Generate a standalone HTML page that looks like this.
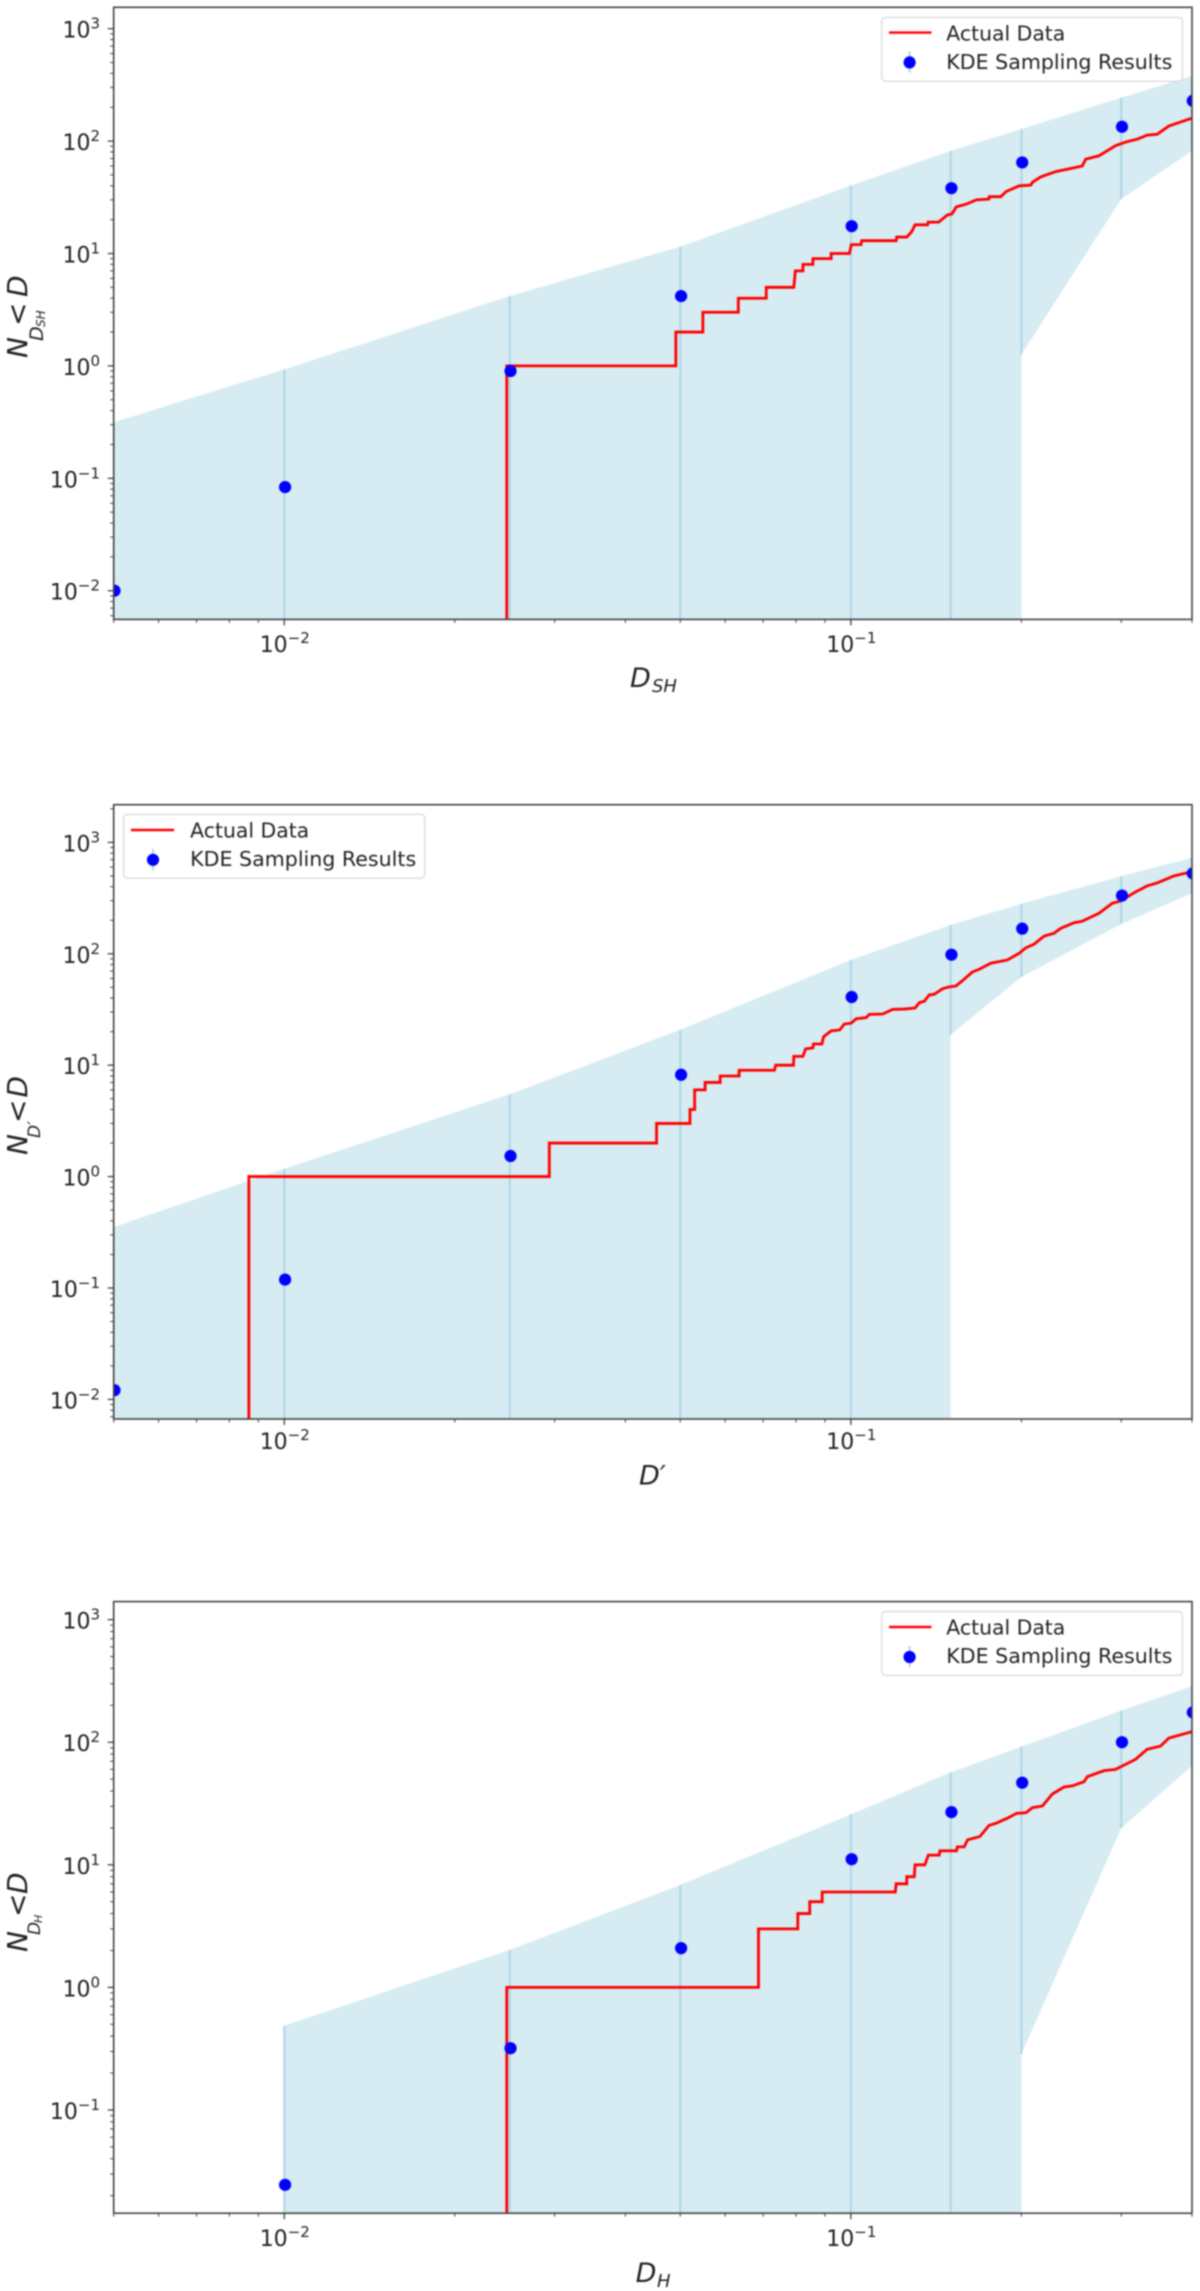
<!DOCTYPE html>
<html lang="en">
<head>
<meta charset="utf-8">
<title>KDE sampling results versus actual data</title>
<style>
html,body{margin:0;padding:0;background:#fff;}
svg{display:block;filter:blur(.7px);}
text{font-family:"DejaVu Sans","Liberation Sans",sans-serif;fill:#222;}
.math{font-style:italic;}
.legend-text{font-size:20px;}
.tick-text{font-size:22px;}
</style>
</head>
<body>
<svg id="figure" xmlns="http://www.w3.org/2000/svg" width="1200" height="2291" viewBox="0 0 1200 2291">
  <defs>
    <clipPath id="clip-1"><rect x="113.7" y="7.3" width="1078.3" height="612.1"/></clipPath>
    <clipPath id="clip-2"><rect x="113.7" y="804.7" width="1078.3" height="614.3"/></clipPath>
    <clipPath id="clip-3"><rect x="113.7" y="1601.6" width="1078.3" height="611.6"/></clipPath>
  </defs>

  <g>
    <g id="marks-1" clip-path="url(#clip-1)"></g>
    <rect x="113.7" y="7.3" width="1078.3" height="612.1" fill="none" stroke="#444" stroke-width="1.6"/>
    <g id="ticks-1"></g>
    <g>
      <text class="math" font-size="28" transform="translate(27,358) rotate(-90)">N</text>
      <text class="math" font-size="19" transform="translate(43,341) rotate(-90)">D</text>
      <text class="math" font-size="12" transform="translate(45,327) rotate(-90)">SH</text>
      <text class="math" font-size="28" transform="translate(27,326) rotate(-90)">&lt;</text>
      <text class="math" font-size="28" transform="translate(27,297) rotate(-90)">D</text>
    </g>
    <g>
      <text class="math" font-size="27" x="630" y="687">D</text>
      <text class="math" font-size="18" x="652" y="692">SH</text>
    </g>
    <g>
      <rect x="881.7" y="17.4" width="300.8" height="63.9" rx="4" fill="#fff" fill-opacity=".82" stroke="#dcdcdc" stroke-width="1.4"/>
      <line x1="889" x2="931.4" y1="32.6" y2="32.6" stroke="#f00" stroke-width="2.4"/>
      <line x1="909.6" x2="909.6" y1="51.4" y2="72.5" stroke="#aed6e5" stroke-width="2"/>
      <circle cx="909.6" cy="62.4" r="6.1" fill="#00f"/>
      <text class="legend-text" x="946.3" y="40.4" textLength="119" lengthAdjust="spacingAndGlyphs">Actual Data</text>
      <text class="legend-text" x="946.3" y="68.9" textLength="226" lengthAdjust="spacingAndGlyphs">KDE Sampling Results</text>
    </g>
  </g>

  <g>
    <g id="marks-2" clip-path="url(#clip-2)"></g>
    <rect x="113.7" y="804.7" width="1078.3" height="614.3" fill="none" stroke="#444" stroke-width="1.6"/>
    <g id="ticks-2"></g>
    <g>
      <text class="math" font-size="28" transform="translate(27,1155) rotate(-90)">N</text>
      <text class="math" font-size="17" transform="translate(40,1138) rotate(-90)">D′</text>
      <text class="math" font-size="28" transform="translate(27,1123) rotate(-90)">&lt;</text>
      <text class="math" font-size="28" transform="translate(27,1097.6) rotate(-90)">D</text>
    </g>
    <text class="math" font-size="27" x="639" y="1484.7">D′</text>
    <g>
      <rect x="123.6" y="814.3" width="301.2" height="63.9" rx="4" fill="#fff" fill-opacity=".82" stroke="#dcdcdc" stroke-width="1.4"/>
      <line x1="130.9" x2="174.1" y1="830" y2="830" stroke="#f00" stroke-width="2.4"/>
      <line x1="153" x2="153" y1="849" y2="870" stroke="#aed6e5" stroke-width="2"/>
      <circle cx="153" cy="859.8" r="6.1" fill="#00f"/>
      <text class="legend-text" x="190.2" y="837.3" textLength="119" lengthAdjust="spacingAndGlyphs">Actual Data</text>
      <text class="legend-text" x="190.2" y="865.8" textLength="226" lengthAdjust="spacingAndGlyphs">KDE Sampling Results</text>
    </g>
  </g>

  <g>
    <g id="marks-3" clip-path="url(#clip-3)"></g>
    <rect x="113.7" y="1601.6" width="1078.3" height="611.6" fill="none" stroke="#444" stroke-width="1.6"/>
    <g id="ticks-3"></g>
    <g>
      <text class="math" font-size="28" transform="translate(27,1952) rotate(-90)">N</text>
      <text class="math" font-size="17" transform="translate(40,1935) rotate(-90)">D</text>
      <text class="math" font-size="11" transform="translate(42,1923) rotate(-90)">H</text>
      <text class="math" font-size="28" transform="translate(27,1917) rotate(-90)">&lt;</text>
      <text class="math" font-size="28" transform="translate(27,1894) rotate(-90)">D</text>
    </g>
    <g>
      <text class="math" font-size="27" x="635.6" y="2282">D</text>
      <text class="math" font-size="18" x="657" y="2287">H</text>
    </g>
    <g>
      <rect x="881.7" y="1611.5" width="300.8" height="63.9" rx="4" fill="#fff" fill-opacity=".82" stroke="#dcdcdc" stroke-width="1.4"/>
      <line x1="889" x2="931.4" y1="1627" y2="1627" stroke="#f00" stroke-width="2.4"/>
      <line x1="909.6" x2="909.6" y1="1646" y2="1667" stroke="#aed6e5" stroke-width="2"/>
      <circle cx="909.6" cy="1657" r="6.1" fill="#00f"/>
      <text class="legend-text" x="946.3" y="1634.7" textLength="119" lengthAdjust="spacingAndGlyphs">Actual Data</text>
      <text class="legend-text" x="946.3" y="1662.9" textLength="226" lengthAdjust="spacingAndGlyphs">KDE Sampling Results</text>
    </g>
  </g>
</svg>

<script>
// Shared sample positions and tick labels
const sampleD = [0.005, 0.01, 0.025, 0.05, 0.1, 0.15, 0.2, 0.3, 0.4];
const xTickValues = [0.01, 0.1];
const xTickExponents = ['\u22122', '\u22121'];
const yTickValues = [0.01, 0.1, 1, 10, 100, 1000];
const yTickExponents = ['\u22122', '\u22121', '0', '1', '2', '3'];
const minorMultiples = [2, 3, 4, 5, 6, 7, 8, 9];
const minorDecades = [0.001, 0.01, 0.1, 1, 10, 100, 1000];

// Panel 1: D_SH
const panel1Upper = [0.315, 0.93, 4.18, 11.5, 40.3, 81.6, 128, 243, 378];
const panel1Lower = [null, null, null, null, null, null, 1.27, 30.6, 82];
const panel1Means = [0.01, 0.0835, 0.90, 4.18, 17.5, 38.1, 64.5, 134, 228];
const panel1LineD = [0.0247,0.0247,0.0491,0.0491,0.0548,0.0548,0.0633,0.0633,0.0709,0.0709,0.0793,0.0798,0.0823,0.0823,0.0857,0.0857,0.0923,0.0923,0.0994,0.1002,0.1042,0.1045,0.1202,0.1205,0.1255,0.1280,0.1298,0.1366,0.1369,0.1428,0.1480,0.1508,0.1535,0.1599,0.1665,0.1752,0.1755,0.1839,0.1878,0.1982,0.2077,0.2091,0.2163,0.2299,0.2443,0.2561,0.2597,0.2741,0.2932,0.3055,0.3203,0.3333,0.3472,0.3640,0.3974,0.4];
const panel1LineN = [0.001,1,1,2,2,3,3,4,4,5,5,7,7,8,8,9,9,10,10,12,12,13,13,14,14,15.6,18,18,19,19,22,22.5,26,27.5,30,30.5,32,32,35.5,40,40.5,43,48,53.5,57,60,69,74,91,98,104,113,115,136,158,160];

// Panel 2: D'
const panel2Upper = [0.352, 1.175, 5.47, 20.8, 88, 181, 281, 496, 726];
const panel2Lower = [null, null, null, null, null, 18.8, 62, 185, 349];
const panel2Means = [0.0121, 0.119, 1.53, 8.2, 40.9, 98, 168, 333, 526];
const panel2LineD = [0.00866,0.00866,0.02936,0.02936,0.0454,0.0454,0.0520,0.0520,0.0530,0.0530,0.0553,0.0553,0.0588,0.0588,0.0635,0.0635,0.0733,0.0737,0.0792,0.0793,0.0823,0.0832,0.0857,0.0859,0.0889,0.0895,0.0923,0.0955,0.0974,0.1001,0.1022,0.1064,0.1078,0.1138,0.1185,0.1243,0.1298,0.1321,0.1348,0.1375,0.1403,0.1452,0.1492,0.1533,0.1574,0.1639,0.1685,0.1766,0.1889,0.1982,0.2036,0.2106,0.2193,0.2284,0.2346,0.2477,0.2561,0.2741,0.2893,0.2993,0.3180,0.3333,0.3472,0.3715,0.3974,0.4];
const panel2LineN = [0.001,1,1,2,2,3,3,4,4,6,6,7,7,8,8,9,9,10,10,12,12,14,14.3,15.5,15.5,18,20.3,20.7,23.4,23.8,26.1,26.7,28.6,28.8,31.7,31.9,32.6,36.4,37.5,42.7,43.3,48.6,50.4,51.4,57.4,68.7,72.6,82.2,88,101,113,122,144,153,169,190,196,231,284,298,359,406,432,499,542,550];

// Panel 3: D_H
const panel3Upper = [null, 0.486, 2.02, 6.84, 25.8, 56.7, 92, 181, 286];
const panel3Lower = [null, null, null, null, null, null, 0.286, 19.9, 64.3];
const panel3Means = [null, 0.0245, 0.319, 2.09, 11.1, 26.9, 46.7, 100, 175];
const panel3LineD = [0.0247,0.0247,0.0687,0.0687,0.0806,0.0806,0.0846,0.0846,0.0890,0.0890,0.1198,0.1202,0.1255,0.1255,0.1294,0.1298,0.1351,0.1370,0.1432,0.1436,0.1536,0.1541,0.1585,0.1607,0.1689,0.1754,0.1803,0.1889,0.1961,0.2036,0.2091,0.2178,0.2268,0.2378,0.2459,0.2579,0.2614,0.2798,0.2932,0.3180,0.3333,0.3520,0.3640,0.3974,0.4];
const panel3LineN = [0.001,1,1,3,3,4,4,5,5,6,6,7,7,8,8,10,10,12,12,13,13,14,14,16,17,21,21.8,24,26.3,26.6,29.2,30.2,37.8,43.1,44,47.6,52.3,58.6,60,72.5,87.5,93,108,121,123];

const SVG_NS = 'http://www.w3.org/2000/svg';

function make(tag, attrs, parent) {
  const node = document.createElementNS(SVG_NS, tag);
  for (const key in attrs) node.setAttribute(key, attrs[key]);
  parent.appendChild(node);
  return node;
}

function drawPanel(panel) {
  const marks = document.getElementById('marks-' + panel.index);
  const ticks = document.getElementById('ticks-' + panel.index);
  const logXMin = Math.log10(0.005);
  const logXMax = Math.log10(0.4);
  const xScale = function (v) {
    return panel.left + (Math.log10(v) - logXMin) / (logXMax - logXMin) * (panel.right - panel.left);
  };
  const yScale = function (v) {
    return panel.bottom - (Math.log10(v) - panel.logYMin) / (panel.logYMax - panel.logYMin) * (panel.bottom - panel.top);
  };
  const yFloor = Math.pow(10, panel.logYMin);
  const yCeil = Math.pow(10, panel.logYMax);

  // Confidence band
  const bandPoints = [];
  sampleD.forEach(function (d, i) {
    if (panel.upper[i] !== null) bandPoints.push(xScale(d).toFixed(2) + ',' + yScale(panel.upper[i]).toFixed(2));
  });
  for (let i = sampleD.length - 1; i >= 0; i--) {
    if (panel.upper[i] === null) continue;
    if (panel.lower[i] !== null) {
      bandPoints.push(xScale(sampleD[i]).toFixed(2) + ',' + yScale(panel.lower[i]).toFixed(2));
    } else {
      bandPoints.push(xScale(sampleD[i === sampleD.length - 1 ? i : (panel.lower[i + 1] !== null ? i + 1 : i)]).toFixed(2) + ',' + panel.bottom);
      bandPoints.push(xScale(sampleD[i]).toFixed(2) + ',' + panel.bottom);
    }
  }
  const band = make('polygon', { points: bandPoints.join(' '), fill: 'rgb(173,216,230)', 'fill-opacity': 0.5 }, marks);
  
  

  // Error bars
  sampleD.forEach(function (d, i) {
    if (panel.upper[i] === null) return;
    const low = panel.lower[i] === null ? yFloor : panel.lower[i];
    const bar = make('line', {
      x1: xScale(d), x2: xScale(d), y1: yScale(low), y2: yScale(panel.upper[i]),
      stroke: '#aed6e5', 'stroke-width': 2
    }, marks);
    
    
  });

  // Actual data line
  const linePoints = panel.lineD.map(function (d, i) {
    return xScale(d).toFixed(2) + ',' + yScale(panel.lineN[i]).toFixed(2);
  });
  const line = make('polyline', {
    points: linePoints.join(' '), fill: 'none', stroke: '#f00', 'stroke-width': 2.8, 'stroke-linejoin': 'miter'
  }, marks);
  
  

  // KDE means
  sampleD.forEach(function (d, i) {
    if (panel.means[i] === null) return;
    const dot = make('circle', { cx: xScale(d) + 0.8, cy: yScale(panel.means[i]), r: 6.1, fill: '#00f' }, marks);
    
    
  });

  // X ticks
  xTickValues.forEach(function (v, i) {
    const tick = make('line', { x1: xScale(v), x2: xScale(v), y1: panel.bottom, y2: panel.bottom + 6, stroke: '#333', 'stroke-width': 1.2 }, ticks);
    
    
    const label = make('text', { x: xScale(v) + 0.5, y: panel.bottom + panel.xLabelDrop, 'text-anchor': 'middle', class: 'tick-text' }, ticks);
    
    
    make('tspan', {}, label).textContent = '10';
    const sup = make('tspan', { dy: -9, 'font-size': 15 }, label);
    sup.textContent = xTickExponents[i];
  });
  minorDecades.forEach(function (decade) {
    minorMultiples.forEach(function (m) {
      const v = decade * m;
      if (v < 0.00499 || v > 0.401) return;
      const tick = make('line', { x1: xScale(v), x2: xScale(v), y1: panel.bottom, y2: panel.bottom + 3.5, stroke: '#444', 'stroke-width': 1 }, ticks);
      
      
    });
  });

  // Y ticks
  yTickValues.forEach(function (v, i) {
    if (v < yFloor || v > yCeil) return;
    const tick = make('line', { x1: panel.left - 6, x2: panel.left, y1: yScale(v), y2: yScale(v), stroke: '#333', 'stroke-width': 1.2 }, ticks);
    
    
    const label = make('text', { x: 100, y: yScale(v) + 9, 'text-anchor': 'end', class: 'tick-text' }, ticks);
    
    
    make('tspan', {}, label).textContent = '10';
    const sup = make('tspan', { dy: -9, 'font-size': 15 }, label);
    sup.textContent = yTickExponents[i];
  });
  minorDecades.forEach(function (decade) {
    minorMultiples.forEach(function (m) {
      const v = decade * m;
      if (v < yFloor || v > yCeil) return;
      const tick = make('line', { x1: panel.left - 3.5, x2: panel.left, y1: yScale(v), y2: yScale(v), stroke: '#444', 'stroke-width': 1 }, ticks);
      
      
    });
  });
}

drawPanel({
  index: 1, left: 113.7, right: 1192, top: 7.3, bottom: 619.4, logYMin: -2.255, logYMax: 3.190, xLabelDrop: 32.6,
  upper: panel1Upper, lower: panel1Lower, means: panel1Means, lineD: panel1LineD, lineN: panel1LineN
});
drawPanel({
  index: 2, left: 113.7, right: 1192, top: 804.7, bottom: 1419, logYMin: -2.176, logYMax: 3.338, xLabelDrop: 30,
  upper: panel2Upper, lower: panel2Lower, means: panel2Means, lineD: panel2LineD, lineN: panel2LineN
});
drawPanel({
  index: 3, left: 113.7, right: 1192, top: 1601.6, bottom: 2213.2, logYMin: -1.842, logYMax: 3.147, xLabelDrop: 33,
  upper: panel3Upper, lower: panel3Lower, means: panel3Means, lineD: panel3LineD, lineN: panel3LineN
});
</script>
</body>
</html>
